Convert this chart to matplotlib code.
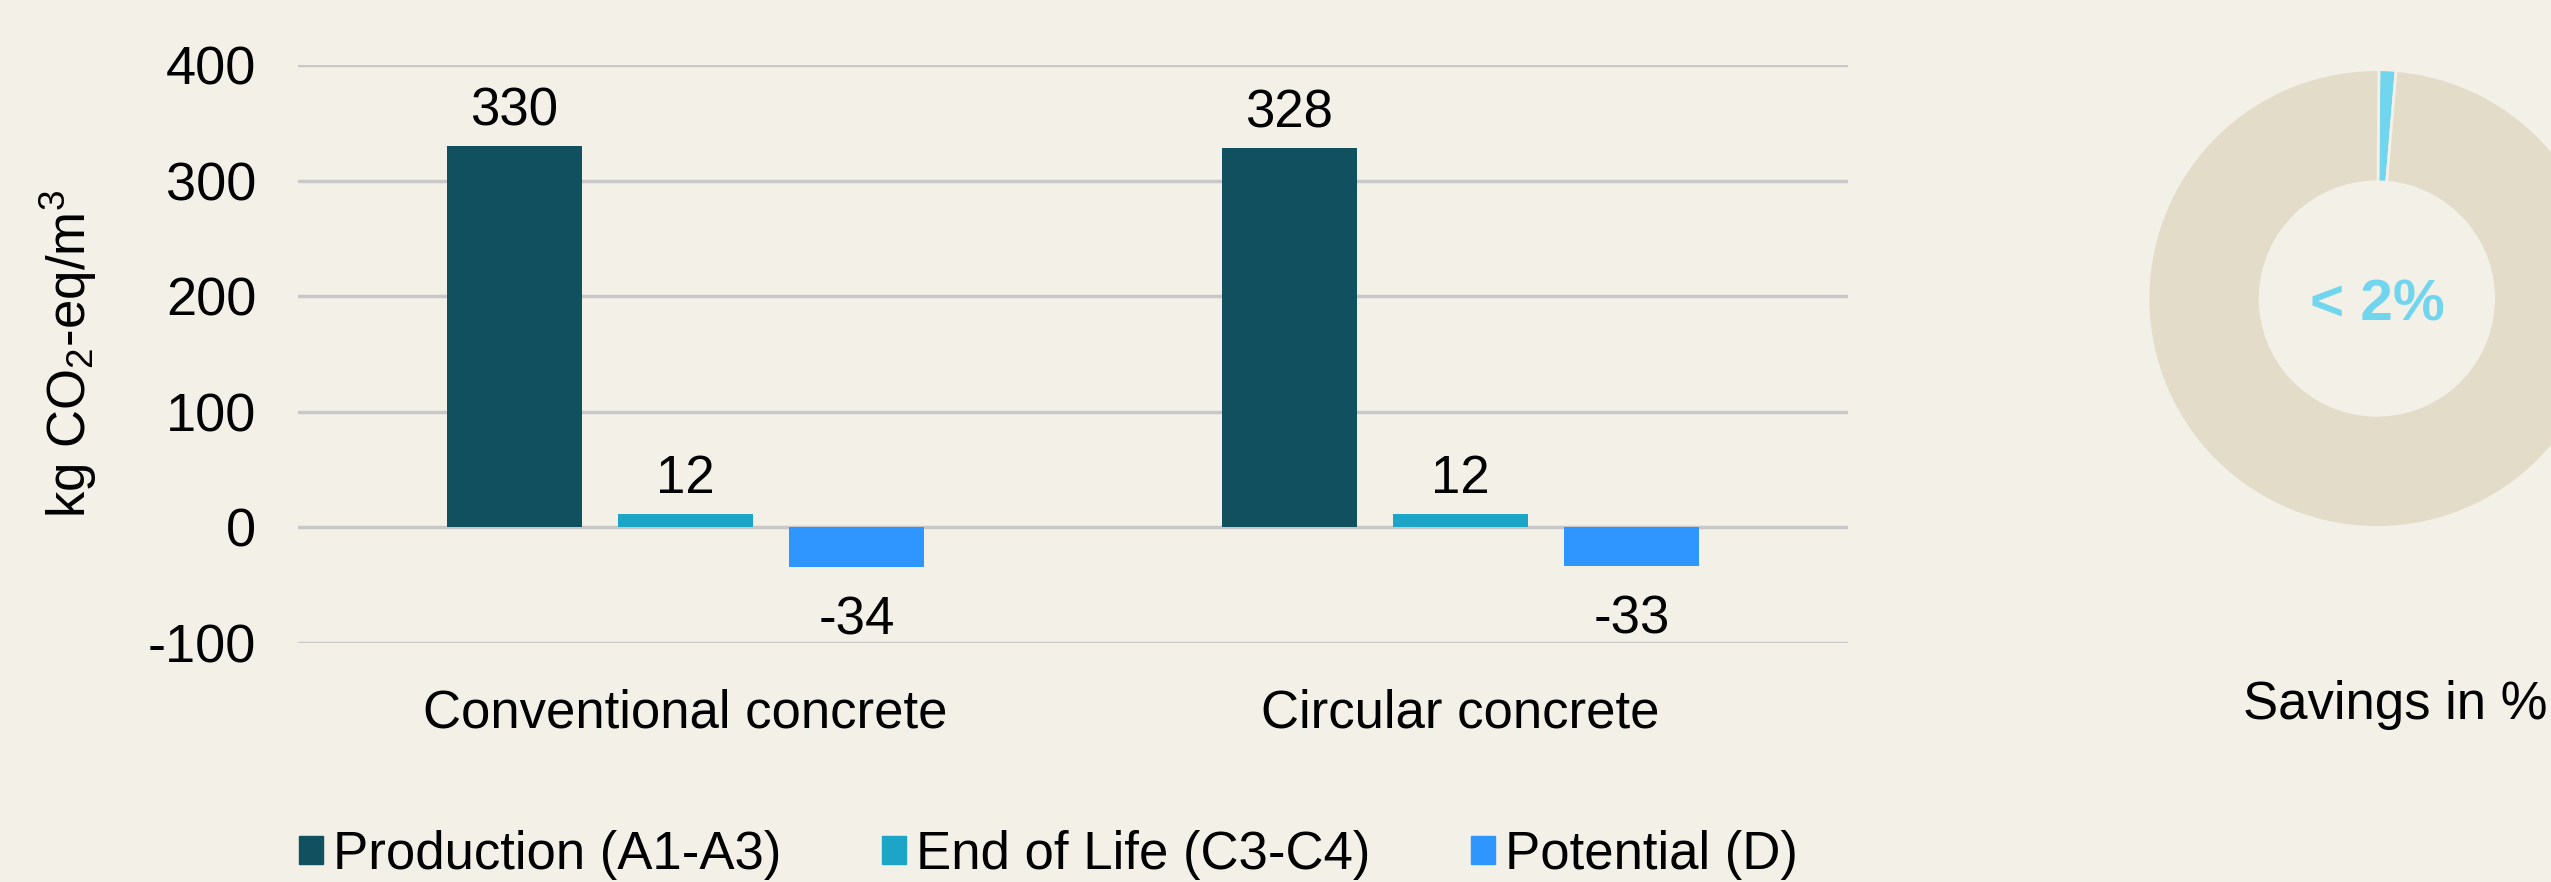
import numpy as np
import matplotlib.pyplot as plt
from matplotlib.patches import Patch

plt.rcParams['font.family'] = ['Liberation Sans', 'DejaVu Sans']
plt.rcParams['mathtext.default'] = 'regular'
plt.rcParams['axes.unicode_minus'] = False

categories = ['Conventional concrete', 'Circular concrete']
series = ['Production (A1-A3)', 'End of Life (C3-C4)', 'Potential (D)']
production = [330, 328]
end_of_life = [12, 12]
potential = [-34, -33]
savings = [1.2, 98.8]
savings_text = '< 2%'

bg = '#F3F0E8'
colors = ['#10505F', '#1DA5C8', '#3096FF']
fs = 38

fig = plt.figure(figsize=(25.51, 8.82), dpi=100, facecolor=bg)
ax = fig.add_axes([0.1168, 0.271, 0.6076, 0.655])
ax.set_facecolor(bg)

x = np.arange(len(categories))
w = 0.174
step = 0.221
for i, (vals, c) in enumerate(zip([production, end_of_life, potential], colors)):
    bars = ax.bar(x + (i - 1) * step, vals, w, color=c, zorder=3)
    pad = 7 if vals[0] > 0 else 21
    ax.bar_label(bars, padding=pad, fontsize=fs, color='black')

ax.set_xlim(-0.5, 1.5)
ax.set_ylim(-100, 400)
ax.set_yticks([-100, 0, 100, 200, 300, 400])
ax.set_xticks(x)
ax.set_xticklabels(categories)
ax.tick_params(axis='both', length=0, labelsize=fs)
ax.tick_params(axis='y', labelsize=39, pad=30)
ax.tick_params(axis='x', pad=33)
ax.grid(axis='y', color='#C8C8C8', linewidth=2.5, zorder=0)
for s in ax.spines.values():
    s.set_visible(False)

fig.text(68 / 2551, 0.599, 'kg CO$_2$-eq/m$^3$', rotation=90,
         ha='center', va='center', fontsize=fs)

handles = [Patch(color=c) for c in colors]
fig.legend(handles, series, loc='center', bbox_to_anchor=(0.411, 0.031),
           ncol=3, frameon=False, fontsize=fs, handlelength=0.45,
           handleheight=0.45, handletextpad=0.2, columnspacing=1.9)

# donut
ax2 = fig.add_axes([0.842, 0.402, 0.1795, 0.519])
ax2.set_facecolor(bg)
ax2.pie(savings, colors=['#72D5EE', '#E3DCC8'], startangle=89.5, counterclock=False,
        radius=1, wedgeprops=dict(width=0.49, edgecolor=bg, linewidth=2))
ax2.set_xlim(-1, 1)
ax2.set_ylim(-1, 1)
ax2.set_aspect('equal')
ax2.text(0, -0.03, savings_text, ha='center', va='center', fontsize=42,
         fontweight='bold', color='#72D5EE')
fig.text(2395 / 2551, 1 - 705 / 882, 'Savings in %', ha='center', va='center',
         fontsize=fs)

fig.savefig('out.png', dpi=100, facecolor=bg)
